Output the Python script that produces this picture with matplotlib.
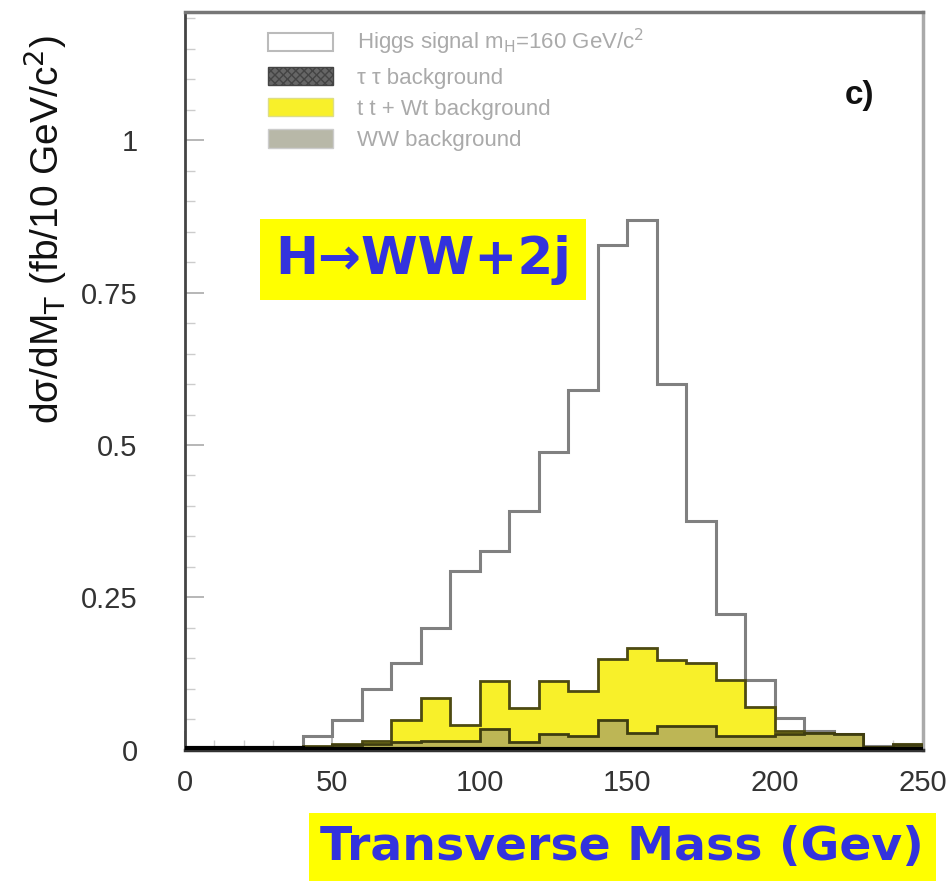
import numpy as np
import matplotlib.pyplot as plt
from matplotlib.patches import Patch

plt.rcParams['font.family'] = ['Liberation Sans', 'DejaVu Sans']

# bin edges of the transverse mass histogram (GeV), 10 GeV bins
edges = np.arange(0, 260, 10)

# stack levels (fb / 10 GeV)
total_level = [0.003, 0.003, 0.003, 0.003, 0.023, 0.048, 0.100, 0.143, 0.200, 0.293,
               0.326, 0.392, 0.489, 0.590, 0.828, 0.870, 0.600, 0.375, 0.223, 0.115,
               0.052, 0.031, 0.026, 0.006, 0.010]
ttwt_level = [0.002, 0.002, 0.002, 0.002, 0.006, 0.009, 0.015, 0.048, 0.085, 0.040,
              0.113, 0.069, 0.113, 0.097, 0.149, 0.167, 0.147, 0.143, 0.115, 0.070,
              0.031, 0.028, 0.025, 0.005, 0.009]
ww_level = [0.001, 0.001, 0.001, 0.001, 0.005, 0.008, 0.010, 0.012, 0.014, 0.015,
            0.034, 0.012, 0.025, 0.023, 0.048, 0.028, 0.039, 0.039, 0.023, 0.022,
            0.025, 0.027, 0.025, 0.004, 0.008]
tautau_level = [0.003, 0.003, 0.003, 0.003, 0.002, 0.001, 0.001, 0.001, 0.001, 0.001,
                0.001, 0.001, 0.001, 0.001, 0.001, 0.001, 0.001, 0.001, 0.001, 0.001,
                0.001, 0.001, 0.001, 0.001, 0.001]

legend_labels = ['Higgs signal m$_{\\rm H}$=160 GeV/c$^2$',
                 '\u03c4 \u03c4 background',
                 't t + Wt background',
                 'WW background']

fig = plt.figure(figsize=(9.53, 8.81), dpi=100)
ax = fig.add_axes([0.194, 0.149, 0.774, 0.837])

yellow = '#f8f02a'
olive = '#bdb655'

ax.stairs(total_level, edges, fill=True, color='white', zorder=1)
ax.stairs(total_level, edges, color='#808080', linewidth=2.2, zorder=2)
ax.stairs(ttwt_level, edges, fill=True, color=yellow, zorder=3)
ax.stairs(ttwt_level, edges, color='#4d4a12', linewidth=2, zorder=4)
ax.stairs(ww_level, edges, fill=True, color=olive, zorder=5)
ax.stairs(ww_level, edges, color='#3f3d10', linewidth=2, zorder=6)
ax.stairs(tautau_level, edges, color='black', linewidth=3, zorder=7)

ax.set_xlim(0, 250)
ax.set_ylim(0, 1.21)
ax.set_xticks([0, 50, 100, 150, 200, 250])
ax.set_yticks([0, 0.25, 0.5, 0.75, 1])
ax.set_yticklabels(['0', '0.25', '0.5', '0.75', '1'])
ax.set_yticks(np.arange(0, 1.21, 0.05), minor=True)
ax.set_xticks(np.arange(0, 251, 10), minor=True)
ax.tick_params(axis='both', which='major', direction='in', length=14, width=1.2,
               color='#aaaaaa', labelsize=21, labelcolor='#333333')
ax.tick_params(axis='both', which='minor', direction='in', length=7, width=1,
               color='#cccccc')
ax.tick_params(axis='x', pad=14)
ax.tick_params(axis='y', pad=34)

for side, col, lw in [('left', '#444444', 2), ('top', '#777777', 2.5),
                      ('right', '#aaaaaa', 2.5), ('bottom', '#333333', 2.5)]:
    ax.spines[side].set_color(col)
    ax.spines[side].set_linewidth(lw)

handles = [Patch(facecolor='white', edgecolor='#bbbbbb', linewidth=1.5),
           Patch(facecolor='#666666', edgecolor='#444444', hatch='xxxx', linewidth=1),
           Patch(facecolor=yellow, edgecolor='#dddd88', linewidth=1),
           Patch(facecolor='#b8b8a8', edgecolor='#cccccc', linewidth=1)]
leg = ax.legend(handles, legend_labels, loc='upper left', bbox_to_anchor=(0.113, 0.98),
                frameon=False, fontsize=16, labelcolor='#aaaaaa', handlelength=2.9,
                handleheight=0.9, handletextpad=1.1, labelspacing=0.42,
                borderpad=0, borderaxespad=0)

ax.text(0.915, 0.887, 'c)', transform=ax.transAxes, fontsize=24, fontweight='bold',
        color='#111111', ha='center', va='center')

fig.text(0.047, 0.739, 'd\u03c3/dM$_{\\rm T}$ (fb/10 GeV/c$^2$)', rotation=90,
         ha='center', va='center', fontsize=28, color='#111111')

fig.text(0.444, 0.705, 'H\u2192WW+2j', ha='center', va='center', fontsize=37,
         fontweight='bold', color='#3333dd', family=['DejaVu Sans'],
         bbox=dict(boxstyle='square,pad=0.3', facecolor='#ffff00', edgecolor='none'))

fig.text(0.653, 0.038, 'Transverse Mass (Gev)', ha='center', va='center', fontsize=34,
         fontweight='bold', color='#3333dd', family=['DejaVu Sans'],
         bbox=dict(boxstyle='square,pad=0.25', facecolor='#ffff00', edgecolor='none'))

fig.savefig('out.png', dpi=100)
